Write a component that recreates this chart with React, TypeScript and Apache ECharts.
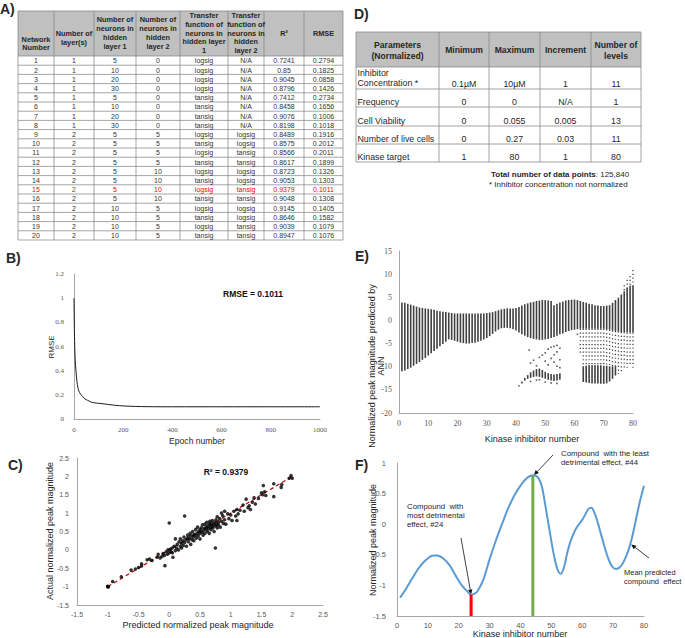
import { useEffect, useRef } from 'react';
import * as echarts from 'echarts';

const SANS = '"Liberation Sans", Arial, sans-serif';
const SERIF = '"Liberation Serif", "Times New Roman", serif';

// ---------- Table A ----------
const A_HEADERS = [
  ['Network', 'Number'],
  ['Number of', 'layer(s)'],
  ['Number of', 'neurons in', 'hidden', 'layer 1'],
  ['Number of', 'neurons in', 'hidden', 'layer 2'],
  ['Transfer', 'function of', 'neurons in', 'hidden layer', '1'],
  ['Transfer', 'function of', 'neurons in', 'hidden', 'layer 2'],
  ['R²'],
  ['RMSE'],
];
const A_NETWORK = ['1','2','3','4','5','6','7','8','9','10','11','12','13','14','15','16','17','18','19','20'];
const A_LAYERS = ['1','1','1','1','1','1','1','1','2','2','2','2','2','2','2','2','2','2','2','2'];
const A_NEURONS1 = ['5','10','20','30','5','10','20','30','5','5','5','5','5','5','5','5','10','10','10','10'];
const A_NEURONS2 = ['0','0','0','0','0','0','0','0','5','5','5','5','10','10','10','10','5','5','5','5'];
const A_TRANSFER1 = ['logsig','logsig','logsig','logsig','tansig','tansig','tansig','tansig','logsig','tansig','logsig','tansig','logsig','tansig','logsig','tansig','logsig','tansig','logsig','tansig'];
const A_TRANSFER2 = ['N/A','N/A','N/A','N/A','N/A','N/A','N/A','N/A','logsig','logsig','tansig','tansig','logsig','logsig','tansig','tansig','logsig','logsig','tansig','tansig'];
const A_R2 = ['0.7241','0.85','0.9045','0.8796','0.7412','0.8458','0.9076','0.8198','0.8489','0.8575','0.8566','0.8617','0.8723','0.9053','0.9379','0.9048','0.9145','0.8646','0.9039','0.8947'];
const A_RMSE = ['0.2794','0.1825','0.0858','0.1426','0.2734','0.1656','0.1006','0.1018','0.1916','0.2012','0.2011','0.1899','0.1326','0.1303','0.1011','0.1308','0.1405','0.1582','0.1079','0.1076'];
const A_HIGHLIGHT_ROW = 14;

// ---------- Table D ----------
const D_HEADERS = ['Parameters\n(Normalized)', 'Minimum', 'Maximum', 'Increment', 'Number of\nlevels'];
const D_PARAMS = ['Inhibitor\nConcentration *', 'Frequency', 'Cell Viability', 'Number of live cells', 'Kinase target'];
const D_MIN = ['0.1µM', '0', '0', '0', '1'];
const D_MAX = ['10µM', '0', '0.055', '0.27', '80'];
const D_INC = ['1', 'N/A', '0.005', '0.03', '1'];
const D_LEVELS = ['11', '1', '13', '11', '80'];

// ---------- Panel B ----------
const B_EPOCH = [0, 1, 2, 3, 5, 8, 12, 16, 20, 27, 35, 45, 55, 70, 90, 110, 140, 170, 200, 250, 300, 400, 600, 800, 1000];
const B_RMSE = [1.0, 0.82, 0.68, 0.6, 0.48, 0.4, 0.31, 0.26, 0.23, 0.205, 0.185, 0.165, 0.155, 0.14, 0.132, 0.128, 0.12, 0.113, 0.108, 0.104, 0.102, 0.101, 0.101, 0.1011, 0.1011];

// ---------- Panel C ----------
const C_POINTS = [
  [-1.0,-1.0],[-0.99,-1.01],[-1.0,-0.99],[-0.92,-0.86],[-0.78,-0.73],[-0.62,-0.55],[-0.55,-0.52],[-0.5,-0.48],
  [-0.45,-0.44],[-0.45,-0.38],[-0.36,-0.27],[-0.32,-0.25],[-0.28,-0.29],[-0.2,-0.2],[-0.18,-0.12],[-0.15,-0.22],
  [-0.12,-0.18],[-0.1,-0.1],[-0.08,-0.15],[-0.07,-0.43],[-0.05,-0.05],[-0.03,-0.12],[-0.02,0.0],[0.0,-0.08],
  [0.0,0.73],[0.02,0.02],[0.03,-0.05],[0.05,-0.08],[0.06,-0.2],[0.05,0.05],[0.08,0.1],[0.1,-0.02],[0.1,0.3],
  [0.12,0.05],[0.13,0.15],[0.15,0.0],[0.16,0.22],[0.18,0.1],[0.18,0.3],[0.2,0.18],[0.2,0.05],[0.22,0.25],
  [0.23,0.12],[0.24,0.35],[0.25,0.92],[0.25,0.2],[0.27,0.28],[0.28,0.1],[0.3,0.32],[0.3,0.4],[0.31,0.22],
  [0.33,0.3],[0.34,0.45],[0.35,0.15],[0.35,0.38],[0.37,0.28],[0.38,0.5],[0.39,0.35],[0.4,0.42],[0.4,0.25],
  [0.42,0.4],[0.43,0.55],[0.44,0.32],[0.45,0.45],[0.46,0.62],[0.47,0.38],[0.48,0.5],[0.5,0.45],[0.5,0.55],
  [0.5,0.3],[0.52,0.6],[0.53,0.48],[0.54,0.68],[0.55,0.52],[0.55,0.4],[0.57,0.58],[0.58,0.45],[0.58,0.7],
  [0.6,0.55],[0.6,0.62],[0.61,0.75],[0.62,0.5],[0.63,0.65],[0.64,0.58],[0.65,0.7],[0.65,0.45],[0.66,0.78],
  [0.67,0.62],[0.68,0.55],[0.68,0.72],[0.7,0.65],[0.7,0.8],[0.71,0.6],[0.72,0.7],[0.73,0.5],[0.74,0.75],
  [0.75,0.05],[0.75,0.65],[0.76,0.82],[0.77,0.7],[0.78,0.6],[0.78,0.9],[0.8,0.75],[0.8,0.68],[0.82,0.85],
  [0.83,0.62],[0.85,0.78],[0.85,1.0],[0.87,0.93],[0.88,0.72],[0.9,0.82],[0.9,1.05],[0.92,0.7],[0.95,0.98],
  [0.97,0.85],[1.0,0.95],[1.02,0.8],[1.05,1.05],[1.08,0.92],[1.1,1.1],[1.1,0.8],[1.12,0.98],[1.15,1.08],
  [1.2,1.22],[1.22,1.05],[1.25,1.38],[1.28,1.15],[1.3,1.2],[1.32,1.1],[1.35,1.3],[1.38,1.42],[1.4,1.25],
  [1.45,1.4],[1.5,1.55],[1.52,1.5],[1.55,1.58],[1.53,1.75],[1.57,1.48],[1.7,1.8],[1.7,1.45],[1.82,1.7],
  [1.83,1.78],[1.95,1.95],[1.98,2.02],[2.0,1.95],
];
const C_TREND = [[-1.0, -1.0], [2.02, 2.02]];

// ---------- Panel E ----------
const E_HI = [3.9,3.8,3.6,3.4,3.2,3.0,2.8,2.7,2.6,2.5,2.4,2.3,2.1,2.0,1.9,1.8,1.7,1.6,1.5,1.5,
  1.5,1.5,1.5,1.5,1.5,1.5,1.5,1.5,1.5,1.6,1.7,1.8,2.0,2.2,2.4,2.5,2.6,2.6,2.6,2.7,
  2.9,3.2,3.5,3.7,3.9,4.0,4.2,4.3,4.4,4.4,4.3,4.2,3.3,3.6,3.9,4.1,4.3,4.4,4.5,4.5,
  4.4,4.2,4.0,3.8,3.6,3.5,3.3,3.2,3.1,3.1,3.2,3.3,3.8,4.4,4.9,5.6,6.3,7.0,7.5,7.6];
const E_LO = [-11.0,-10.8,-10.5,-10.2,-9.8,-9.4,-9.0,-8.5,-8.1,-7.6,-7.1,-6.6,-6.1,-5.6,-5.1,-4.6,-4.1,-4.2,-4.4,-4.6,
  -4.8,-4.9,-5.0,-5.0,-4.9,-4.8,-4.6,-4.4,-4.1,-3.8,-3.4,-2.9,-2.4,-2.0,-1.7,-1.6,-1.6,-1.7,-1.9,-2.2,
  -2.6,-3.0,-3.3,-3.6,-3.8,-4.0,-4.1,-4.2,-4.2,-4.1,-4.0,-3.8,-3.6,-3.3,-3.0,-2.8,-2.5,-2.3,-2.1,-2.0,
  -1.9,-1.8,-1.8,-1.8,-1.8,-1.8,-1.8,-1.8,-1.8,-1.8,-1.9,-2.0,-2.2,-2.3,-2.4,-2.5,-2.5,-2.6,-2.6,-2.6];
// secondary dense clusters: [inhibitor, low, high]
const E_LOWER = [
  [41,-14.3,-14.0],[42,-13.6,-13.2],[43,-13.0,-12.4],[44,-12.6,-11.8],[45,-12.4,-11.2],[46,-12.2,-10.8],
  [47,-12.1,-10.5],[48,-12.2,-10.4],[49,-12.4,-10.7],[50,-12.6,-11.1],[51,-12.8,-11.4],[52,-13.0,-11.6],
  [53,-13.1,-11.7],[54,-13.0,-11.6],[55,-12.8,-11.4],
  [63,-13.3,-9.9],[64,-13.4,-9.8],[65,-13.5,-9.7],[66,-13.6,-9.7],[67,-13.6,-9.7],[68,-13.6,-9.7],
  [69,-13.7,-9.7],[70,-13.7,-9.8],[71,-13.6,-9.8],[72,-13.2,-9.9],[73,-12.6,-9.9],[74,-11.9,-9.9],
];
// sparse dotted columns: [inhibitor, low, high]
const E_SPARSE = [
  [77,6.3,7.6],[78,7.0,8.8],[79,7.5,9.6],[80,7.6,10.9],
  [62,-7.3,-1.8],[63,-9.9,-1.8],[64,-9.8,-1.8],[65,-9.7,-1.8],[66,-9.7,-1.8],[67,-9.7,-1.8],[68,-9.7,-1.8],
  [69,-9.7,-1.8],[70,-9.8,-1.8],[71,-9.8,-1.9],[72,-9.9,-2.0],[73,-9.9,-2.2],[74,-9.9,-2.3],[75,-11.6,-2.4],
  [76,-11.0,-2.5],[77,-10.5,-2.5],[78,-10.6,-2.6],[79,-9.7,-2.6],[80,-10.3,-2.6],
];
const E_DOTS = [
  [44.5,-6.4],[45,-9.2],[46,-8.6],[47,-9.8],[48,-8.0],[49,-7.5],[50,-8.8],[50,-7.0],[51,-6.2],[51,-9.6],
  [52,-5.8],[52,-8.2],[53,-5.6],[53,-7.4],[53,-9.0],[54,-5.4],[54,-6.8],[54,-9.9],[55,-6.0],[55,-8.5],
  [55,-10.2],[48,-12.8],[50,-13.3],[52,-13.5],[54,-13.6],[61,-3.0],[45,-13.2],[47,-12.9],
];

// ---------- Panel F ----------
const F_X = [1,3,5,7,9,11,12,13,15,17,19,21,23,24,25,26,28,30,32,34,36,38,40,42,44,45,46,47,48,49,50,51,52,53,54,55,56,57,58,60,61,62,63,64,65,66,67,68,69,70,71,72,73,74,75,76,77,78,79,80];
const F_Y = [-1.2,-1.05,-0.88,-0.72,-0.6,-0.52,-0.51,-0.51,-0.56,-0.67,-0.84,-1.0,-1.11,-1.15,-1.14,-1.1,-0.9,-0.57,-0.27,0.0,
  0.26,0.47,0.63,0.75,0.8,0.79,0.74,0.6,0.32,0.02,-0.28,-0.55,-0.74,-0.81,-0.72,-0.5,-0.31,-0.18,-0.07,0.07,
  0.16,0.25,0.27,0.18,0.03,-0.15,-0.33,-0.5,-0.63,-0.71,-0.73,-0.71,-0.65,-0.55,-0.42,-0.24,-0.02,0.22,0.44,0.63];
const F_WORST = 24;
const F_BEST = 44;
const F_MEAN_ARROW_AT = 75.5;

function fAt(x: number) {
  for (let i = 0; i < F_X.length - 1; i++) {
    if (x >= F_X[i] && x <= F_X[i + 1]) {
      const t = (x - F_X[i]) / (F_X[i + 1] - F_X[i]);
      return F_Y[i] + t * (F_Y[i + 1] - F_Y[i]);
    }
  }
  return F_Y[F_Y.length - 1];
}

function axis(gridIndex: number, min: number, max: number, interval: number, fontSize: number, family: string, margin: number) {
  return {
    type: 'value', gridIndex, min, max, interval,
    axisLine: { show: true, onZero: false, lineStyle: { color: '#a6a6a6', width: 1 } },
    axisTick: { show: false },
    splitLine: { show: false },
    axisLabel: {
      color: '#595959', fontSize, fontFamily: family, margin, showMinLabel: true, showMaxLabel: true,
      formatter: (v: number) => String(Math.round(v * 1000) / 1000),
    },
  };
}

function buildOption() {
  const denseRender = (_p: any, api: any) => {
    const x = api.value(0), lo = api.value(1), hi = api.value(2);
    const t = api.coord([x, hi]);
    const b = api.coord([x, lo]);
    return { type: 'rect', shape: { x: t[0] - 0.8, y: t[1], width: 1.6, height: Math.max(1.2, b[1] - t[1]) }, style: { fill: '#404040' } };
  };
  const sparseRender = (_p: any, api: any) => {
    const x = api.value(0), lo = api.value(1), hi = api.value(2);
    const t = api.coord([x, hi]);
    const b = api.coord([x, lo]);
    return { type: 'line', shape: { x1: t[0], y1: t[1], x2: b[0], y2: b[1] }, style: { stroke: '#444', lineWidth: 1.3, lineDash: [1.2, 2.6] } };
  };
  return {
    animation: false,
    backgroundColor: '#ffffff',
    grid: [
      { left: 74, top: 274, width: 246, height: 145 },
      { left: 77, top: 458, width: 246, height: 147 },
      { left: 399, top: 251, width: 234, height: 162 },
      { left: 397, top: 463, width: 247, height: 153 },
    ],
    xAxis: [
      axis(0, 0, 1000, 200, 7, SERIF, 7),
      axis(1, -1.5, 2.5, 0.5, 7, SANS, 6),
      axis(2, 0, 80, 10, 8, SERIF, 6),
      axis(3, 0, 80, 10, 7.5, SANS, 5),
    ],
    yAxis: [
      axis(0, 0, 1.2, 0.2, 7, SERIF, 10),
      axis(1, -1.5, 2.5, 0.5, 7, SANS, 8),
      axis(2, -20, 15, 5, 8, SERIF, 7),
      axis(3, -1.5, 1, 0.5, 7.5, SANS, 11),
    ],
    series: [
      {
        type: 'line', xAxisIndex: 0, yAxisIndex: 0, symbol: 'none', smooth: 0.3,
        data: B_EPOCH.map((e, i) => [e, B_RMSE[i]]),
        lineStyle: { color: '#1a1a1a', width: 1 },
      },
      {
        type: 'line', xAxisIndex: 1, yAxisIndex: 1, symbol: 'none', data: C_TREND,
        lineStyle: { color: '#c00000', width: 1.2, type: [4, 3] }, z: 1,
      },
      {
        type: 'scatter', xAxisIndex: 1, yAxisIndex: 1, data: C_POINTS, symbolSize: 3.6,
        itemStyle: { color: '#000000' }, z: 2,
      },
      {
        type: 'custom', xAxisIndex: 2, yAxisIndex: 2, renderItem: denseRender, encode: { x: 0, y: [1, 2] },
        data: E_HI.map((h, i) => [i + 1, E_LO[i], h]),
      },
      {
        type: 'custom', xAxisIndex: 2, yAxisIndex: 2, renderItem: denseRender, encode: { x: 0, y: [1, 2] },
        data: E_LOWER,
      },
      {
        type: 'custom', xAxisIndex: 2, yAxisIndex: 2, renderItem: sparseRender, encode: { x: 0, y: [1, 2] },
        data: E_SPARSE,
      },
      {
        type: 'scatter', xAxisIndex: 2, yAxisIndex: 2, data: E_DOTS, symbol: 'rect', symbolSize: 1.6,
        itemStyle: { color: '#333' },
      },
      {
        type: 'line', xAxisIndex: 3, yAxisIndex: 3, symbol: 'none',
        data: [[F_WORST, -1.5], [F_WORST, fAt(F_WORST)]],
        lineStyle: { color: '#ff0000', width: 3 }, z: 3,
      },
      {
        type: 'line', xAxisIndex: 3, yAxisIndex: 3, symbol: 'none',
        data: [[F_BEST, -1.5], [F_BEST, fAt(F_BEST)]],
        lineStyle: { color: '#70ad47', width: 3 }, z: 3,
      },
      {
        type: 'line', xAxisIndex: 3, yAxisIndex: 3, symbol: 'none', smooth: 0.3,
        data: F_X.map((x, i) => [x, F_Y[i]]),
        lineStyle: { color: '#5b9bd5', width: 2 }, z: 2,
      },
    ],
  };
}

function buildGraphic(chart: any) {
  const els: any[] = [];
  const line = (x1: number, y1: number, x2: number, y2: number, stroke = '#808080', lw = 0.7) =>
    els.push({ type: 'line', silent: true, shape: { x1, y1, x2, y2 }, style: { stroke, lineWidth: lw } });
  const text = (x: number, y: number, t: string, size: number, opts: any = {}) =>
    els.push({
      type: 'text', silent: true, x, y, rotation: opts.rotation || 0,
      style: {
        text: t, fill: opts.fill || '#262626',
        font: `${opts.bold ? 'bold ' : ''}${size}px ${opts.family || SANS}`,
        align: opts.align || 'center', verticalAlign: opts.valign || 'middle',
        lineHeight: opts.lineHeight || size * 1.2,
        rich: opts.rich,
      },
    });
  const arrow = (x1: number, y1: number, x2: number, y2: number) => {
    const ang = Math.atan2(y2 - y1, x2 - x1);
    const L = 5, W = 2.2;
    const bx = x2 - L * Math.cos(ang), by = y2 - L * Math.sin(ang);
    const px = -Math.sin(ang) * W, py = Math.cos(ang) * W;
    els.push({ type: 'line', silent: true, shape: { x1, y1, x2: bx, y2: by }, style: { stroke: '#111', lineWidth: 0.8 } });
    els.push({ type: 'polygon', silent: true, shape: { points: [[x2, y2], [bx + px, by + py], [bx - px, by - py]] }, style: { fill: '#111' } });
  };

  // Panel labels
  text(0, 9, 'A)', 14, { bold: true, align: 'left' });
  text(6, 258, 'B)', 14, { bold: true, align: 'left' });
  text(8, 465, 'C)', 14, { bold: true, align: 'left' });
  text(354, 14, 'D)', 14, { bold: true, align: 'left' });
  text(355, 256, 'E)', 14, { bold: true, align: 'left' });
  text(355, 465, 'F)', 14, { bold: true, align: 'left' });

  // ---- Table A ----
  const ax = [18, 54, 94, 136, 180, 228, 264, 304, 343];
  const aTop = 11, aHead = 56, aRow = 9.2, aRows = A_NETWORK.length;
  const aBottom = aHead + aRow * aRows;
  els.push({ type: 'rect', silent: true, shape: { x: ax[0], y: aTop, width: ax[8] - ax[0], height: aHead - aTop }, style: { fill: '#c0c0c0' } });
  line(ax[0], aTop, ax[8], aTop);
  for (let r = 0; r <= aRows; r++) line(ax[0], aHead + aRow * r, ax[8], aHead + aRow * r);
  ax.forEach((x) => line(x, aTop, x, aBottom));
  const headY = [43.5, 38, 33, 33, 33, 33, 33, 33];
  A_HEADERS.forEach((h, c) => {
    text((ax[c] + ax[c + 1]) / 2, headY[c], h.join('\n'), 7.3, { bold: true, lineHeight: 8.7 });
  });
  const cols = [A_NETWORK, A_LAYERS, A_NEURONS1, A_NEURONS2, A_TRANSFER1, A_TRANSFER2, A_R2, A_RMSE];
  cols.forEach((col, c) => {
    col.forEach((v, r) => {
      text((ax[c] + ax[c + 1]) / 2, aHead + aRow * (r + 0.5) + 0.3, v, 7, { fill: r === A_HIGHLIGHT_ROW ? '#ff0000' : '#333333' });
    });
  });

  // ---- Table D ----
  const dx = [356, 439, 489, 540, 591, 641];
  const dy = [32, 67, 89, 107, 126, 144, 162];
  els.push({ type: 'rect', silent: true, shape: { x: dx[0], y: dy[0], width: dx[5] - dx[0], height: dy[1] - dy[0] }, style: { fill: '#c0c0c0' } });
  dy.forEach((y) => line(dx[0], y, dx[5], y, '#8c8c8c', 0.8));
  dx.forEach((x) => line(x, dy[0], x, dy[6], '#8c8c8c', 0.8));
  D_HEADERS.forEach((h, c) => text((dx[c] + dx[c + 1]) / 2, 50, h, 8.6, { bold: true, lineHeight: 11 }));
  const dCols = [D_MIN, D_MAX, D_INC, D_LEVELS];
  D_PARAMS.forEach((p, r) => {
    const yc = dy[r + 2] - 5;
    if (p.indexOf('\n') >= 0) {
      text(dx[0] + 1.5, dy[r + 2] - 11, p, 8.8, { align: 'left', lineHeight: 10.6 });
    } else {
      text(dx[0] + 1.5, yc, p, 8.8, { align: 'left' });
    }
    dCols.forEach((col, c) => text((dx[c + 1] + dx[c + 2]) / 2, yc, col[r], 8.8));
  });
  text(491, 174.5, '{b|Total number of data points}{n|: 125,840}', 8, {
    align: 'left',
    rich: {
      b: { font: `bold 8px ${SANS}`, fill: '#262626' },
      n: { font: `8px ${SANS}`, fill: '#262626' },
    },
  });
  text(489, 184.5, '* Inhibitor concentration not normalized', 8, { align: 'left' });

  // ---- Panel B texts ----
  text(253, 294, 'RMSE = 0.1011', 8.5, { bold: true, fill: '#111' });
  text(51, 347, 'RMSE', 8, { rotation: Math.PI / 2 });
  text(197, 441, 'Epoch number', 8.6);

  // ---- Panel C texts ----
  text(226, 472, 'R² = 0.9379', 8.5, { bold: true, fill: '#111' });
  text(50, 531, 'Actual normalized peak magnitude', 9, { rotation: Math.PI / 2 });
  text(198, 625, 'Predicted normalized peak magnitude', 9);

  // ---- Panel E texts ----
  text(376, 366, 'Normalized peak magnitude predicted by\nANN', 9, { rotation: Math.PI / 2, lineHeight: 9 });
  text(532, 439, 'Kinase inhibitor number', 9);

  // ---- Panel F texts ----
  text(373, 540, 'Normalized peak magnitude', 9, { rotation: Math.PI / 2 });
  text(520, 634, 'Kinase inhibitor number', 9);
  text(561, 457.5, 'Compound  with the least\ndetrimental effect, #44', 7.8, { align: 'left', lineHeight: 9 });
  text(407, 515.5, 'Compound  with\nmost detrimental\neffect, #24', 7.8, { align: 'left', lineHeight: 8.6 });
  text(624, 576.5, 'Mean predicted\ncompound  effect', 7.5, { align: 'left', lineHeight: 9 });

  const pBest = chart.convertToPixel({ gridIndex: 3 }, [F_BEST, fAt(F_BEST)]);
  const pWorst = chart.convertToPixel({ gridIndex: 3 }, [F_WORST, fAt(F_WORST)]);
  const pMean = chart.convertToPixel({ gridIndex: 3 }, [F_MEAN_ARROW_AT, fAt(F_MEAN_ARROW_AT)]);
  arrow(553, 455, pBest[0] + 1, pBest[1]);
  arrow(461, 538, pWorst[0], pWorst[1]);
  arrow(649, 558, pMean[0] + 1, pMean[1]);

  return els;
}

export default function App() {
  const ref = useRef<HTMLDivElement>(null);
  useEffect(() => {
    const chart = echarts.init(ref.current as HTMLDivElement, null, { renderer: 'svg' });
    chart.setOption(buildOption() as any);
    chart.setOption({ graphic: buildGraphic(chart) } as any);
    return () => chart.dispose();
  }, []);
  return (
    <div
      ref={ref}
      style={{ position: 'absolute', left: 0, top: 0, width: 685, height: 638, background: '#ffffff' }}
    />
  );
}
